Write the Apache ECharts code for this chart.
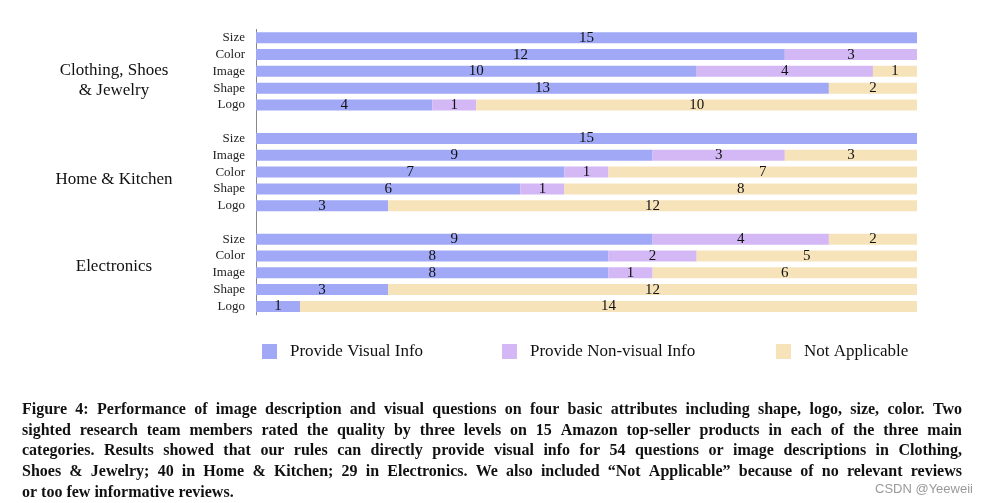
<!DOCTYPE html>
<html>
<head>
<meta charset="utf-8">
<script src="https://cdn.jsdelivr.net/npm/echarts@6/dist/echarts.min.js"></script>
<style>
html,body{margin:0;padding:0;background:#fff;}
#chart{width:982px;height:503px;}
</style>
</head>
<body>
<div id="chart"></div>
<script>
// ---- data ----
const groupNames = ['Clothing, Shoes\n& Jewelry', 'Home & Kitchen', 'Electronics'];
const clothingAttrs = ['Size', 'Color', 'Image', 'Shape', 'Logo'];
const homeAttrs = ['Size', 'Image', 'Color', 'Shape', 'Logo'];
const electronicsAttrs = ['Size', 'Color', 'Image', 'Shape', 'Logo'];
const seriesNames = ['Provide Visual Info', 'Provide Non-visual Info', 'Not Applicable'];
const clothingVisual = [15, 12, 10, 13, 4];
const clothingNonVisual = [0, 3, 4, 0, 1];
const clothingNA = [0, 0, 1, 2, 10];
const homeVisual = [15, 9, 7, 6, 3];
const homeNonVisual = [0, 3, 1, 1, 0];
const homeNA = [0, 3, 7, 8, 12];
const electronicsVisual = [9, 8, 8, 3, 1];
const electronicsNonVisual = [4, 2, 1, 0, 0];
const electronicsNA = [2, 5, 6, 12, 14];
const captionLines = [
  'Figure 4: Performance of image description and visual questions on four basic attributes including shape, logo, size, color. Two',
  'sighted research team members rated the quality by three levels on 15 Amazon top-seller products in each of the three main',
  'categories. Results showed that our rules can directly provide visual info for 54 questions or image descriptions in Clothing,',
  'Shoes & Jewelry; 40 in Home & Kitchen; 29 in Electronics. We also included \u201cNot Applicable\u201d because of no relevant reviews',
  'or too few informative reviews.'
];
const watermark = 'CSDN @Yeeweii';

// ---- build ----
const colors = ['#a1a8f6', '#d4b8f6', '#f7e3ba'];
const categories = [].concat(clothingAttrs, [''], homeAttrs, [' '], electronicsAttrs);
function joinGroups(a, b, c) { return [].concat(a, [null], b, [null], c); }
const seriesData = [
  joinGroups(clothingVisual, homeVisual, electronicsVisual),
  joinGroups(clothingNonVisual, homeNonVisual, electronicsNonVisual),
  joinGroups(clothingNA, homeNA, electronicsNA)
];

const serif = '"Liberation Serif", "Times New Roman", serif';

// caption: justified lines, word by word, horizontally condensed
const capLeft = 22, capRight = 962, capTop = 410, capStep = 20.6, capSize = 16;
const mctx = document.createElement('canvas').getContext('2d');
function measure(t) {
  mctx.font = 'bold ' + capSize + 'px ' + serif;
  return mctx.measureText(t).width;
}
const spaceW = measure(' ');
let capScale = 1;
for (let i = 0; i < 4; i++) {
  const words = captionLines[i].split(' ');
  const sum = words.reduce((s, w) => s + measure(w), 0);
  const s = (capRight - capLeft) / (sum + spaceW * 0.75 * (words.length - 1));
  if (s < capScale) capScale = s;
}
const graphics = [];
captionLines.forEach((line, i) => {
  const words = line.split(' ');
  const widths = words.map(w => measure(w) * capScale);
  const sum = widths.reduce((a, b) => a + b, 0);
  let gap = spaceW * capScale;
  if (i < 4) gap = (capRight - capLeft - sum) / (words.length - 1);
  let x = capLeft;
  words.forEach((w, k) => {
    graphics.push({
      type: 'text', x: x, y: capTop + i * capStep, scaleX: capScale,
      style: { text: w, fill: '#111', fontSize: capSize, fontWeight: 'bold', fontFamily: serif, align: 'left', verticalAlign: 'middle' }
    });
    x += widths[k] + gap;
  });
});
// group labels
const groupLabelY = [80.5, 179.5, 266.5];
groupNames.forEach((g, i) => {
  graphics.push({
    type: 'text', x: 114, y: groupLabelY[i],
    style: { text: g, fill: '#111', fontSize: 17, fontFamily: serif, align: 'center', verticalAlign: 'middle', lineHeight: 20 }
  });
});
graphics.push({
  type: 'text', x: 875, y: 489,
  style: { text: watermark, fill: '#9a9a9a', fontSize: 13, fontFamily: '"Liberation Sans", Arial, sans-serif', align: 'left', verticalAlign: 'middle' }
});

const legendLefts = [262, 502, 776];
const chart = echarts.init(document.getElementById('chart'), null, { renderer: 'canvas' });
chart.setOption({
  animation: false,
  backgroundColor: '#fff',
  grid: { left: 256, top: 29.4, width: 661, height: 285.4, containLabel: false },
  legend: seriesNames.map((n, i) => ({
    data: [n], left: legendLefts[i], top: 343, padding: 0,
    itemWidth: 15, itemHeight: 15, icon: 'rect', selectedMode: false,
    textStyle: { fontFamily: serif, fontSize: 17, color: '#111', padding: [0, 0, 0, 8] }
  })),
  xAxis: { type: 'value', min: 0, max: 15, show: false, splitLine: { show: false } },
  yAxis: {
    type: 'category', data: categories, inverse: true,
    axisLine: { show: true, lineStyle: { color: '#888', width: 1 } },
    axisTick: { show: false },
    axisLabel: { interval: 0, margin: 11, color: '#222', fontFamily: serif, fontSize: 13 },
    splitLine: { show: false }
  },
  series: seriesNames.map((n, i) => ({
    name: n, type: 'bar', stack: 'total', barWidth: 11,
    data: seriesData[i],
    itemStyle: { color: colors[i] },
    label: {
      show: true, position: 'inside', color: '#111', fontFamily: serif, fontSize: 15,
      textBorderWidth: 0,
      formatter: p => (p.value ? String(p.value) : '')
    },
    emphasis: { disabled: true }
  })),
  graphic: graphics
});
</script>
</body>
</html>
